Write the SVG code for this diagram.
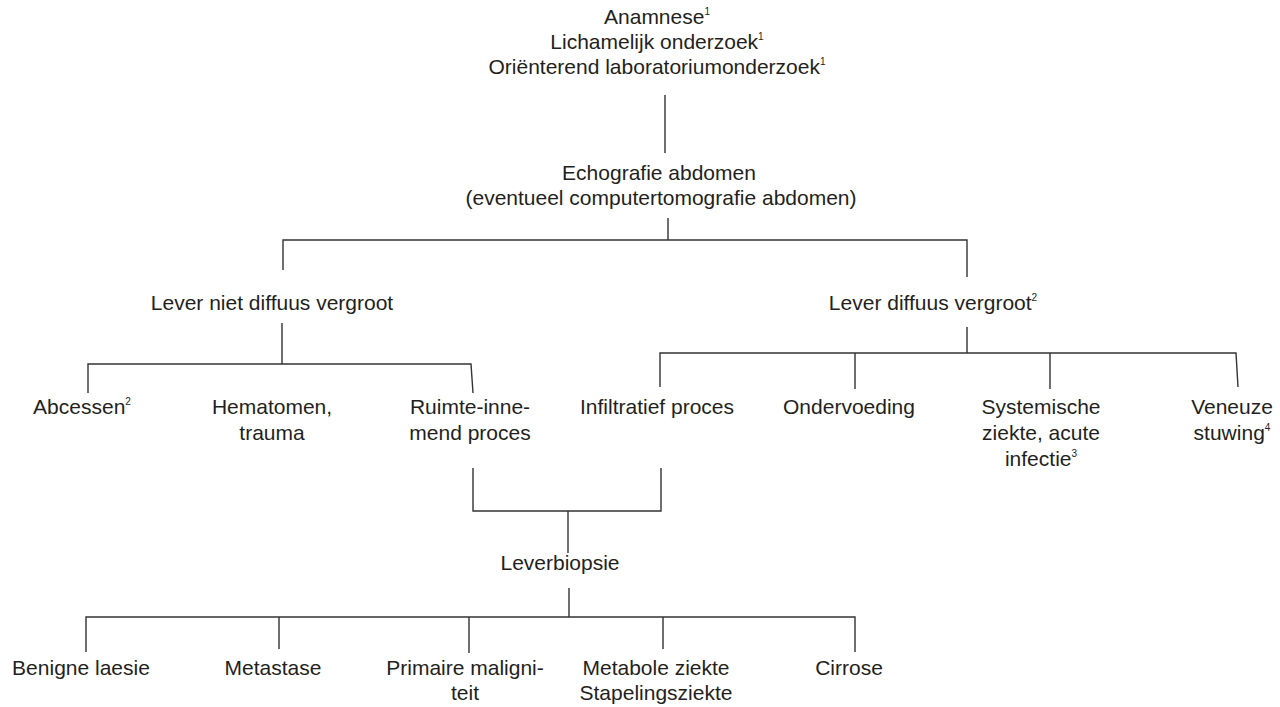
<svg xmlns="http://www.w3.org/2000/svg" width="1280" height="707" viewBox="0 0 1280 707">
<style>
text{font-family:"Liberation Sans",Arial,sans-serif;font-size:21px;fill:#231f20;text-anchor:middle}
.s{font-size:10px}
#connectors path{fill:none;stroke:#333;stroke-width:1.4}
</style>
<rect width="1280" height="707" fill="#fff"/>
<g id="connectors">
<path d="M665 95V153"/>
<path d="M668 218V240M283 270V240H967V277"/>
<path d="M282 323V364M88 393L88 364H471L473 393"/>
<path d="M967 327V353M660 387V353H1236L1238 387M855 353V389M1050 353V389"/>
<path d="M473 468V511H661V468M568 511V553"/>
<path d="M569 588V617M86 652V617H855V652M279 617V649M469 617V653M663 617V649"/>
</g>
<g id="n-top"><text x="657" y="24">Anamnese<tspan class="s" dy="-9">1</tspan></text>
<text x="657" y="49">Lichamelijk onderzoek<tspan class="s" dy="-9">1</tspan></text>
<text x="657" y="74">Oriënterend laboratoriumonderzoek<tspan class="s" dy="-9">1</tspan></text></g>
<g id="n-echo"><text x="659" y="180">Echografie abdomen</text>
<text x="661" y="205">(eventueel computertomografie abdomen)</text></g>
<g id="n-niet"><text x="272" y="310">Lever niet diffuus vergroot</text></g>
<g id="n-diffuus"><text x="933" y="310">Lever diffuus vergroot<tspan class="s" dy="-9">2</tspan></text></g>
<g id="n-abc"><text x="82" y="414">Abcessen<tspan class="s" dy="-9">2</tspan></text></g>
<g id="n-hem"><text x="272" y="414">Hematomen,</text><text x="272" y="440">trauma</text></g>
<g id="n-ruimte"><text x="470" y="414">Ruimte-inne-</text><text x="470" y="440">mend proces</text></g>
<g id="n-infil"><text x="657" y="414">Infiltratief proces</text></g>
<g id="n-onder"><text x="849" y="414">Ondervoeding</text></g>
<g id="n-sys"><text x="1041" y="414">Systemische</text><text x="1041" y="440">ziekte, acute</text><text x="1041" y="466">infectie<tspan class="s" dy="-9">3</tspan></text></g>
<g id="n-ven"><text x="1232" y="414">Veneuze</text><text x="1232" y="440">stuwing<tspan class="s" dy="-9">4</tspan></text></g>
<g id="n-biopsie"><text x="560" y="570">Leverbiopsie</text></g>
<g id="n-ben"><text x="81" y="675">Benigne laesie</text></g>
<g id="n-meta"><text x="273" y="675">Metastase</text></g>
<g id="n-prim"><text x="465" y="675">Primaire maligni-</text><text x="465" y="700">teit</text></g>
<g id="n-metab"><text x="656" y="675">Metabole ziekte</text><text x="656" y="700">Stapelingsziekte</text></g>
<g id="n-cirr"><text x="849" y="675">Cirrose</text></g>
</svg>
